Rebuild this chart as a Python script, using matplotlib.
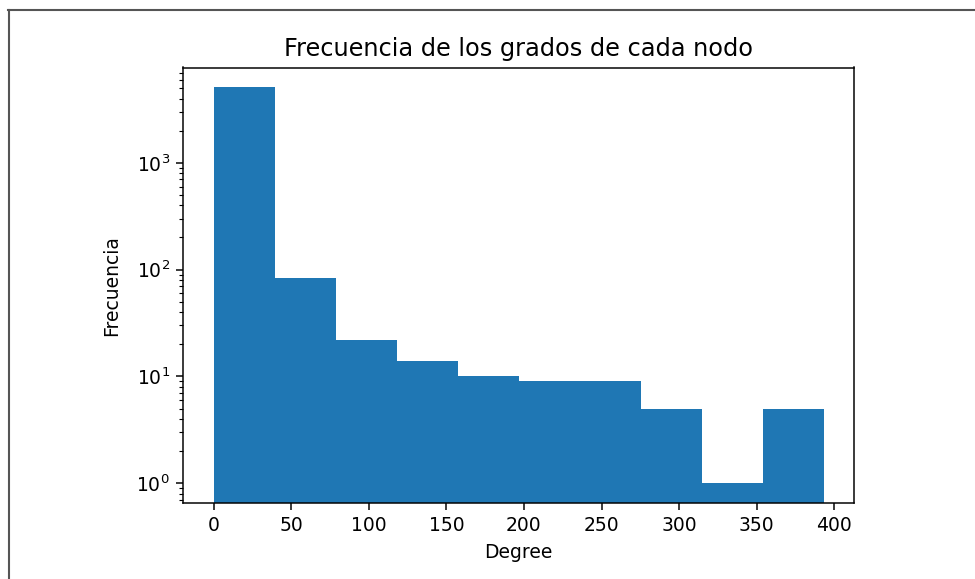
import matplotlib
matplotlib.use("Agg")
import matplotlib.pyplot as plt
import numpy as np
from matplotlib.lines import Line2D

# Data: histogram of node degrees (10 bins)
bin_min = 0
bin_max = 393
counts = [5100, 84, 22, 14, 10, 9, 9, 5, 1, 5]
edges = np.linspace(bin_min, bin_max, len(counts) + 1)
centers = (edges[:-1] + edges[1:]) / 2

S = 1.35  # scale factor relative to default sizes

fig = plt.figure(figsize=(9.75, 5.79), dpi=100)
ax = fig.add_axes([183/975, 76/579, 671/975, 435.5/579])
ax.hist(centers, bins=edges, weights=counts, log=True, color="#1f77b4")
ax.set_title("Frecuencia de los grados de cada nodo", fontsize=17.3, pad=6*S)
ax.set_xlabel("Degree", fontsize=10*S, labelpad=4*S)
ax.set_ylabel("Frecuencia", fontsize=10*S, labelpad=8*S)
ax.tick_params(labelsize=10*S, length=3.5*S, width=0.8*S, pad=3.5*S)
ax.tick_params(which="minor", length=2*S, width=0.6*S)
for sp in ax.spines.values():
    sp.set_linewidth(0.8*S)
ax.set_xticks([0, 50, 100, 150, 200, 250, 300, 350, 400])

# screenshot border (top and left)
fig.add_artist(Line2D([8/975, 1], [1 - 9.5/579, 1 - 9.5/579], transform=fig.transFigure, color="#555555", lw=1.5))
fig.add_artist(Line2D([8.5/975, 8.5/975], [0, 1 - 9.5/579], transform=fig.transFigure, color="#555555", lw=1.5))

fig.savefig("out.png", dpi=100)
